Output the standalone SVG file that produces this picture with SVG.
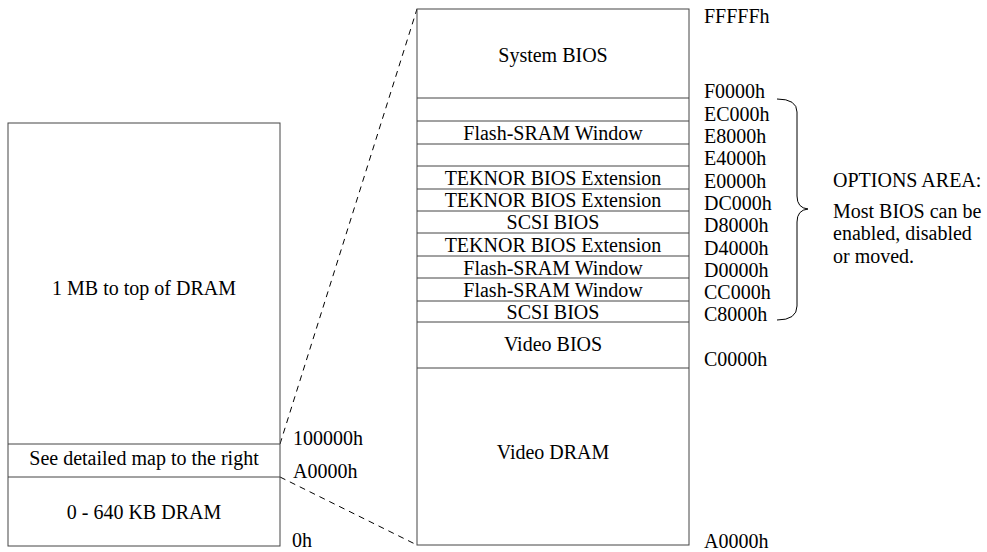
<svg xmlns="http://www.w3.org/2000/svg" width="987" height="552" viewBox="0 0 987 552">
<style>
.box{fill:#fff;stroke:#444;stroke-width:1}
.sep{stroke:#444;stroke-width:1}
text{font-family:"Liberation Serif","Times New Roman",serif;font-size:20px;fill:#000}
.c{text-anchor:middle}
.dash{stroke:#000;stroke-width:1;stroke-dasharray:6,5;fill:none}
</style>
<rect width="987" height="552" fill="#fff"/>
<g id="connectors">
<line class="dash" x1="280" y1="444" x2="417" y2="9"/>
<line class="dash" x1="280" y1="477" x2="417" y2="545"/>
<path d="M777,99 Q797,99 797,112 L797,196 Q797,208 808,209 Q797,210 797,222 L797,306 Q797,320 777,320" fill="none" stroke="#000" stroke-width="1"/>
</g>
<g id="left-map">
<rect class="box" x="8" y="123" width="272" height="423"/>
<line class="sep" x1="8" y1="444" x2="280" y2="444"/>
<line class="sep" x1="8" y1="477" x2="280" y2="477"/>
<text class="c" x="144" y="295">1 MB to top of DRAM</text>
<text class="c" x="144" y="465">See detailed map to the right</text>
<text class="c" x="144" y="519">0 - 640 KB DRAM</text>
<text x="293" y="445">100000h</text>
<text x="293" y="478">A0000h</text>
<text x="292" y="547">0h</text>
</g>
<g id="right-map">
<rect class="box" x="417" y="9" width="272" height="536"/>
<line class="sep" x1="417" y1="98" x2="689" y2="98"/>
<line class="sep" x1="417" y1="121" x2="689" y2="121"/>
<line class="sep" x1="417" y1="144" x2="689" y2="144"/>
<line class="sep" x1="417" y1="166" x2="689" y2="166"/>
<line class="sep" x1="417" y1="189" x2="689" y2="189"/>
<line class="sep" x1="417" y1="211" x2="689" y2="211"/>
<line class="sep" x1="417" y1="233" x2="689" y2="233"/>
<line class="sep" x1="417" y1="256" x2="689" y2="256"/>
<line class="sep" x1="417" y1="278" x2="689" y2="278"/>
<line class="sep" x1="417" y1="301" x2="689" y2="301"/>
<line class="sep" x1="417" y1="322" x2="689" y2="322"/>
<line class="sep" x1="417" y1="368" x2="689" y2="368"/>
<text class="c" x="553" y="62">System BIOS</text>
<text class="c" x="553" y="140">Flash-SRAM Window</text>
<text class="c" x="553" y="185">TEKNOR BIOS Extension</text>
<text class="c" x="553" y="207">TEKNOR BIOS Extension</text>
<text class="c" x="553" y="229">SCSI BIOS</text>
<text class="c" x="553" y="252">TEKNOR BIOS Extension</text>
<text class="c" x="553" y="275">Flash-SRAM Window</text>
<text class="c" x="553" y="297">Flash-SRAM Window</text>
<text class="c" x="553" y="319">SCSI BIOS</text>
<text class="c" x="553" y="351">Video BIOS</text>
<text class="c" x="553" y="459">Video DRAM</text>
</g>
<g id="addresses">
<text x="704" y="23">FFFFFh</text>
<text x="704" y="98">F0000h</text>
<text x="704" y="121">EC000h</text>
<text x="704" y="143">E8000h</text>
<text x="704" y="165">E4000h</text>
<text x="704" y="188">E0000h</text>
<text x="704" y="210">DC000h</text>
<text x="704" y="232">D8000h</text>
<text x="704" y="255">D4000h</text>
<text x="704" y="277">D0000h</text>
<text x="704" y="299">CC000h</text>
<text x="704" y="321">C8000h</text>
<text x="704" y="366">C0000h</text>
<text x="704" y="548">A0000h</text>
</g>
<g id="options-note">
<text x="833" y="187">OPTIONS AREA:</text>
<text x="833" y="218">Most BIOS can be</text>
<text x="833" y="240">enabled, disabled</text>
<text x="833" y="263">or moved.</text>
</g>
</svg>
